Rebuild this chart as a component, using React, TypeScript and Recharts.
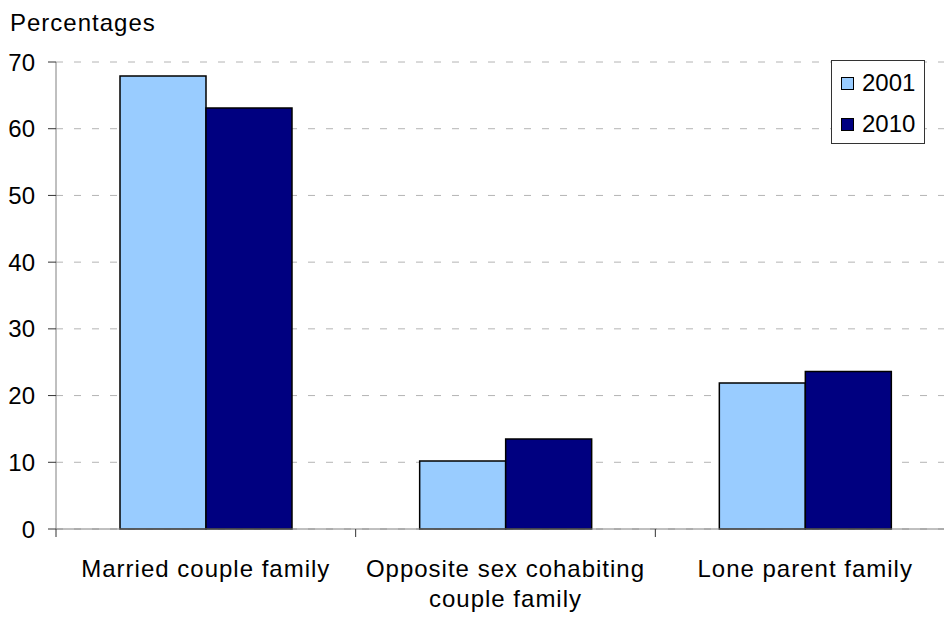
import { BarChart, Bar, XAxis, YAxis, CartesianGrid, Legend } from "recharts";

const categories = [
  "Married couple family",
  "Opposite sex cohabiting couple family",
  "Lone parent family",
];
// how each category label breaks over lines
const tickLines = [
  ["Married couple family"],
  ["Opposite sex cohabiting", "couple family"],
  ["Lone parent family"],
];
const values2001 = [67.9, 10.2, 21.9];
const values2010 = [63.1, 13.5, 23.6];
const yTicks = [0, 10, 20, 30, 40, 50, 60, 70];

const data = categories.map((name, i) => ({
  name,
  y2001: values2001[i],
  y2010: values2010[i],
}));

const FONT = "'Liberation Sans', Arial, sans-serif";
const W = 960;
const H = 617;
const margin = { top: 62, right: 5, bottom: 0, left: 0 };
const yAxisWidth = 56;
const xAxisHeight = 88;
const bandWidth = (W - margin.left - margin.right - yAxisWidth) / categories.length;

function XTick(props: any) {
  const { x, y, index } = props;
  const lines = tickLines[index] ?? [props.payload?.value];
  const bx = x - bandWidth / 2;
  return (
    <g>
      <line x1={bx} y1={y - 8} x2={bx} y2={y} stroke="#333" />
      <text
        x={x}
        y={y + 40}
        textAnchor="middle"
        fontSize={24}
        fill="#000"
        letterSpacing={1}
        style={{ fontFamily: FONT }}
      >
        {lines.map((l: string, i: number) => (
          <tspan key={i} x={x} dy={i === 0 ? 0 : 30}>
            {l}
          </tspan>
        ))}
      </text>
    </g>
  );
}

function LegendBox({ payload }: any) {
  return (
    <div
      style={{
        width: 92,
        height: 82,
        border: "1px solid #333",
        background: "#fff",
        position: "relative",
        fontFamily: FONT,
        fontSize: 24,
        color: "#000",
      }}
    >
      {(payload || []).map((p: any, i: number) => (
        <div key={p.value}>
          <div
            style={{
              position: "absolute",
              left: 9,
              top: 16 + i * 41,
              width: 11,
              height: 11,
              border: "1px solid #000",
              background: p.color,
            }}
          />
          <div
            style={{
              position: "absolute",
              left: 30,
              top: 10 + i * 41,
              lineHeight: "24px",
              whiteSpace: "nowrap",
            }}
          >
            {p.value}
          </div>
        </div>
      ))}
    </div>
  );
}

export default function App() {
  return (
    <div
      style={{
        position: "fixed",
        left: 0,
        top: 0,
        width: 944,
        height: 617,
        overflow: "hidden",
        background: "#fff",
        fontFamily: FONT,
      }}
    >
      <div
        style={{
          position: "absolute",
          left: 10,
          top: 11,
          fontSize: 24,
          lineHeight: "24px",
          letterSpacing: 1,
          zIndex: 2,
        }}
      >
        Percentages
      </div>
      <BarChart
        width={W}
        height={H}
        data={data}
        margin={margin}
        barGap={0}
        barSize={86}
        style={{ fontFamily: FONT }}
      >
        <CartesianGrid
          vertical={false}
          stroke="#b4b4b4"
          strokeDasharray="7 11"
        />
        <XAxis
          dataKey="name"
          height={xAxisHeight}
          interval={0}
          axisLine={{ stroke: "#808080" }}
          tickLine={false}
          tickSize={8}
          tickMargin={0}
          tick={<XTick />}
        />
        <YAxis
          width={yAxisWidth}
          domain={[0, 70]}
          ticks={yTicks}
          interval={0}
          axisLine={{ stroke: "#808080" }}
          tickLine={{ stroke: "#333" }}
          tickSize={8}
          tickMargin={13}
          tick={{ fontSize: 24, fill: "#000" }}
        />
        <Legend
          layout="vertical"
          align="center"
          verticalAlign="middle"
          content={<LegendBox />}
          wrapperStyle={{ left: 831, top: 60, width: 94, height: 84 }}
        />
        <Bar
          dataKey="y2001"
          name="2001"
          fill="#99ccff"
          stroke="#000"
          strokeWidth={1.5}
          isAnimationActive={false}
        />
        <Bar
          dataKey="y2010"
          name="2010"
          fill="#000080"
          stroke="#000"
          strokeWidth={1.5}
          isAnimationActive={false}
        />
      </BarChart>
    </div>
  );
}
